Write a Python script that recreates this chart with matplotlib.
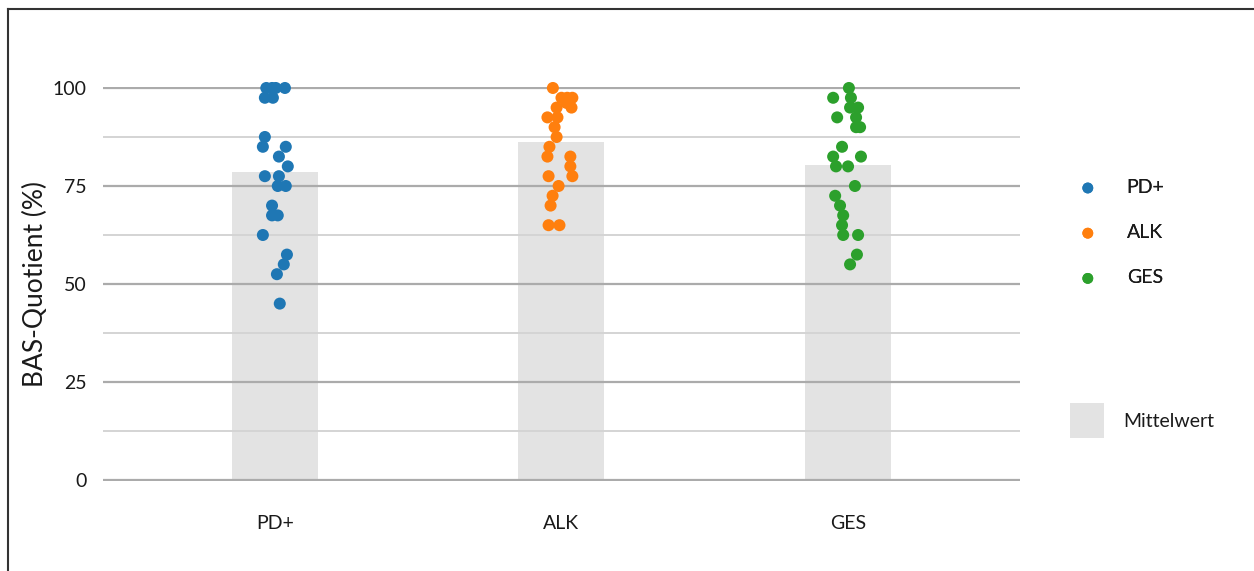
import matplotlib.pyplot as plt
import numpy as np
from matplotlib.lines import Line2D

plt.rcParams["font.family"] = ["Lato", "DejaVu Sans"]

groups = ["PD+", "ALK", "GES"]
colours = ["#1f77b4", "#ff7f0e", "#2ca02c"]
means = [78.6, 86.2, 80.4]

pd_values = [100, 100, 100, 100, 97.5, 97.5, 87.5, 85, 85, 82.5, 80, 77.5, 77.5,
             75, 75, 70, 67.5, 67.5, 62.5, 57.5, 55, 52.5, 45]
pd_jitter = [-0.03, -0.01, 0.003, 0.035, -0.035, -0.007, -0.035, -0.042, 0.038, 0.014,
             0.045, -0.035, 0.014, 0.01, 0.038, -0.01, -0.01, 0.01, -0.042, 0.042,
             0.031, 0.007, 0.017]

alk_values = [100, 97.5, 97.5, 97.5, 96.2, 95, 95, 92.5, 92.5, 90, 87.5, 85, 82.5,
              82.5, 80, 77.5, 77.5, 75, 72.5, 70, 65, 65]
alk_jitter = [-0.03, 0.0, 0.02, 0.038, 0.017, 0.035, -0.017, -0.049, -0.014, -0.024,
              -0.017, -0.042, -0.049, 0.031, 0.031, -0.045, 0.038, -0.01, -0.031,
              -0.038, -0.045, -0.007]

ges_values = [100, 97.5, 97.5, 95, 95, 92.5, 92.5, 90, 90, 85, 82.5, 82.5, 80, 80,
              75, 72.5, 70, 67.5, 65, 62.5, 62.5, 57.5, 55]
ges_jitter = [0.003, -0.052, 0.01, 0.007, 0.035, -0.038, 0.028, 0.028, 0.042, -0.021,
              -0.052, 0.045, -0.042, 0.0, 0.024, -0.045, -0.028, -0.017, -0.021,
              -0.017, 0.035, 0.031, 0.007]

values = [pd_values, alk_values, ges_values]
jitters = [pd_jitter, alk_jitter, ges_jitter]

fig = plt.figure(figsize=(12.54, 5.71), dpi=100)
# small margin around 0..100 so the outer grid lines are not clipped
ax = fig.add_axes([0.0821, 89.8 / 571, 0.7313, 394.4 / 571])

x = np.arange(len(groups))
bars = ax.bar(x, means, width=0.3, color="#e3e3e3", zorder=1, label="Mittelwert")

points = []
for i in range(len(groups)):
    sc = ax.scatter(x[i] + np.array(jitters[i]), values[i], s=75, color=colours[i],
                    edgecolors="none", zorder=3, label=groups[i], clip_on=False)
    points.append(sc)

ax.set_xlim(-0.6, 2.6)
ax.set_ylim(-0.3, 100.3)
ax.set_yticks([0, 25, 50, 75, 100])
ax.set_yticks([12.5, 37.5, 62.5, 87.5], minor=True)
ax.grid(axis="y", which="major", color="#ababab", linewidth=1.6, zorder=2)
ax.grid(axis="y", which="minor", color="#d4d4d4", linewidth=1.4, zorder=2)
ax.set_axisbelow(False)
for spine in ax.spines.values():
    spine.set_visible(False)
ax.tick_params(axis="both", which="both", length=0, labelsize=14, colors="#1a1a1a")
ax.tick_params(axis="y", pad=12)
ax.tick_params(axis="x", pad=24)
ax.set_xticks(x)
ax.set_xticklabels(groups)
ax.set_ylabel("BAS-Quotient (%)", fontsize=19, labelpad=3, color="#1a1a1a")

leg1 = fig.legend(handles=points, loc="upper left", bbox_to_anchor=(0.838, 0.717),
                  frameon=False, fontsize=14, handletextpad=1.0, labelspacing=1.45,
                  markerscale=0.9)
for t in leg1.get_texts():
    t.set_color("#1a1a1a")
leg2 = fig.legend(handles=[bars], loc="upper left", bbox_to_anchor=(0.8394, 0.3247),
                  frameon=False, fontsize=14, handlelength=1.75, handleheight=2.39,
                  handletextpad=1.0)
for t in leg2.get_texts():
    t.set_color("#1a1a1a")
fig.add_artist(leg1)

# outer frame (left and top edges visible)
fig.add_artist(Line2D([8 / 1254, 8 / 1254], [0, 1 - 9 / 571], color="#333333",
                      linewidth=1.5, transform=fig.transFigure))
fig.add_artist(Line2D([8 / 1254, 1], [1 - 9 / 571, 1 - 9 / 571], color="#333333",
                      linewidth=1.5, transform=fig.transFigure))

fig.savefig("out.png", dpi=100)
